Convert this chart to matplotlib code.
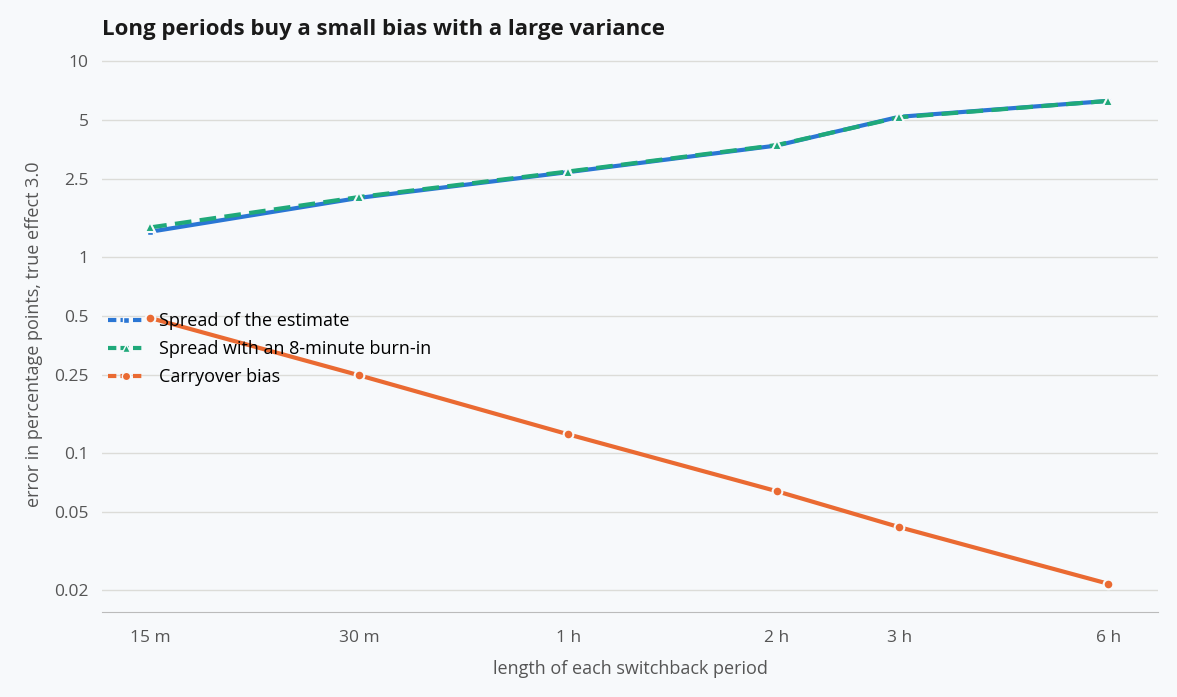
import matplotlib
matplotlib.use("Agg")
import matplotlib.pyplot as plt
from matplotlib.lines import Line2D

minutes = [15, 30, 60, 120, 180, 360]
xlabels = ["15 m", "30 m", "1 h", "2 h", "3 h", "6 h"]
spread = [1.35, 2.01, 2.72, 3.72, 5.21, 6.28]
spread_burnin = [1.42, 2.03, 2.74, 3.74, 5.18, 6.28]
bias = [0.49, 0.25, 0.125, 0.064, 0.042, 0.0216]
yticks = [0.02, 0.05, 0.1, 0.25, 0.5, 1, 2.5, 5, 10]
ylabels = ["0.02", "0.05", "0.1", "0.25", "0.5", "1", "2.5", "5", "10"]

plt.rcParams['font.family'] = ['Open Sans', 'DejaVu Sans']
bg = "#f7f9fb"
fig = plt.figure(figsize=(11.77, 6.97), dpi=100, facecolor=bg)
ax = fig.add_axes([0.087, 0.122, 0.897, 0.796], facecolor=bg)

blue, green, orange = "#2a76d4", "#1fa97a", "#ea6a32"
ax.plot(minutes, spread, color=blue, lw=3, marker="s", ms=5, mec=bg, mew=1, zorder=3)
ax.plot(minutes, spread_burnin, color=green, lw=3, ls=(0, (4, 2)), marker="^", ms=7, mec=bg, mew=1.5, zorder=4)
ax.plot(minutes, bias, color=orange, lw=3, marker="o", ms=7, mec=bg, mew=1.5, zorder=3)

ax.set_xscale("log"); ax.set_yscale("log")
ax.set_xlim(12.8, 425)
ax.set_ylim(0.0155, 10.5)
ax.set_xticks(minutes); ax.set_xticklabels(xlabels)
ax.set_yticks(yticks); ax.set_yticklabels(ylabels)
ax.minorticks_off()
ax.tick_params(length=0, labelsize=12.5, colors="#555555")
ax.tick_params(axis="x", pad=13)
ax.tick_params(axis="y", pad=10)
ax.grid(axis="y", color="#dcdcd8", lw=1)
for s in ["top", "right", "left"]:
    ax.spines[s].set_visible(False)
ax.spines["bottom"].set_color("#bbbbbb")
ax.set_xlabel("length of each switchback period", fontsize=13, color="#555555", labelpad=10)
ax.set_ylabel("error in percentage points, true effect 3.0", fontsize=13, color="#555555", labelpad=8)
fig.text(0.087, 0.957, "Long periods buy a small bias with a large variance", fontsize=16, fontweight="bold", color="#1a1a1a", va="center")

handles = [
    Line2D([], [], color=blue, lw=3, ls=(0, (2, 1)), marker="s", ms=5, mec=bg),
    Line2D([], [], color=green, lw=3, ls=(0, (2, 1)), marker="^", ms=6, mec=bg),
    Line2D([], [], color=orange, lw=3, ls=(0, (2, 1)), marker="o", ms=6, mec=bg),
]
ax.legend(handles, ["Spread of the estimate", "Spread with an 8-minute burn-in", "Carryover bias"],
          loc="upper left", bbox_to_anchor=(-0.01, 0.57), frameon=False, fontsize=13,
          handlelength=2, labelspacing=0.55)
fig.savefig("out.png", dpi=100, facecolor=bg)
